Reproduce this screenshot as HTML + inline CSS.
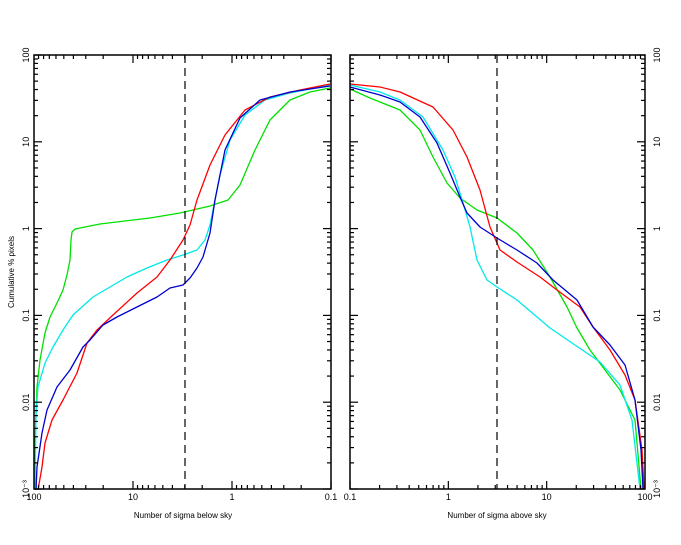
<!DOCTYPE html>
<html><head><meta charset="utf-8"><style>
html,body{margin:0;padding:0;background:#fff;width:681px;height:545px;overflow:hidden}
svg text{font-family:"Liberation Sans",sans-serif;font-size:9px;fill:#000}
</style></head><body>
<svg id="s" width="681" height="545" viewBox="0 0 681 545" xmlns="http://www.w3.org/2000/svg">
<g fill="none" stroke-width="1.3" stroke-linejoin="round">
<polyline stroke="#00e000" points="35,489 35,443 37,387 40,360 45,333 50,317 57,303 63,290 67,275 70,260 71,240 72,232 75,229 100,224 150,218 180,213 210,206 228,200 240,185 255,150 270,120 290,100 310,92 330,88"/>
<polyline stroke="#00e8e8" points="35,490 36,413 38,387 45,363 53,347 63,330 73,315 93,297 110,287 127,277 147,268 167,260 183,255 197,250 205,240 210,225 220,175 230,140 245,115 265,100 290,93 330,85"/>
<polyline stroke="#ff0000" points="38,490 42,467 45,443 52,420 63,400 77,373 87,343 97,330 113,315 137,293 157,277 170,260 183,240 190,225 197,200 210,165 225,135 245,110 270,97 300,90 330,84"/>
<polyline stroke="#0000d0" points="36,490 37,467 42,433 47,410 57,387 70,370 83,347 90,340 103,325 117,317 137,307 157,297 170,288 183,285 190,278 197,268 203,257 210,233 215,200 225,150 240,118 260,100 290,92 330,86"/>
<polyline stroke="#00e000" points="350,89 370,98 385,104 400,110 420,130 433,157 447,183 460,198 477,210 497,218 517,233 533,250 550,277 567,307 577,328 590,350 605,370 620,390 635,420 641,489"/>
<polyline stroke="#00e8e8" points="350,85 380,92 400,100 423,117 443,150 455,177 463,203 470,227 477,260 487,280 497,287 517,300 550,328 575,345 600,362 620,385 632,420 640,489"/>
<polyline stroke="#ff0000" points="350,84 380,87 400,92 433,107 453,130 467,157 480,190 490,227 500,250 517,262 540,277 557,290 580,307 593,327 610,350 625,375 635,400 642,450 644,489"/>
<polyline stroke="#0000d0" points="350,87 380,95 400,102 420,117 437,143 450,173 460,197 467,213 480,227 497,238 517,250 537,263 553,280 577,300 593,327 610,345 625,365 635,400 641,450 643,489"/>
</g>
<line x1="185" y1="55" x2="185" y2="489" stroke="#000" stroke-width="1.2" stroke-dasharray="8,5"/>
<line x1="497" y1="55" x2="497" y2="489" stroke="#000" stroke-width="1.2" stroke-dasharray="8,5"/>
<g id="ax" stroke="#000" fill="none" stroke-width="1.2"></g>
<text x="14" y="272" transform="rotate(-90 14 272)" text-anchor="middle" style="font-size:8px">Cumulative % pixels</text>
<text x="183" y="518" text-anchor="middle" style="font-size:8px">Number of sigma below sky</text>
<text x="497" y="518" text-anchor="middle" style="font-size:8px">Number of sigma above sky</text>
</svg>
<script>
(function(){
var ns="http://www.w3.org/2000/svg",ax=document.getElementById('ax'),sv=document.getElementById('s');
function L(a,b,c,d){var e=document.createElementNS(ns,'line');e.setAttribute('x1',a);e.setAttribute('y1',b);e.setAttribute('x2',c);e.setAttribute('y2',d);ax.appendChild(e);}
function T(x,y,t,rot){var e=document.createElementNS(ns,'text');e.setAttribute('x',x);e.setAttribute('y',y);e.setAttribute('text-anchor','middle');if(rot)e.setAttribute('transform','rotate(-90 '+x+' '+y+')');e.textContent=t;sv.appendChild(e);}
var P=[[34,331,true],[350,645,false]],yt=55,yb=489,dy=86.8;
P.forEach(function(p,i){var x0=p[0],x1=p[1];
 var r=document.createElementNS(ns,'rect');r.setAttribute('x',x0);r.setAttribute('y',yt);r.setAttribute('width',x1-x0);r.setAttribute('height',yb-yt);r.setAttribute('stroke-width','1.5');ax.appendChild(r);
 var dx=(x1-x0)/3;
 for(var d=0;d<3;d++)for(var k=1;k<10;k++){var f=Math.log10(k);var x=p[2]?x0+(d+1-f)*dx:x0+(d+f)*dx;if(k==1)x=p[2]?x0+(d+1)*dx:x0+d*dx;var len=k==1?8:4;L(x,yb,x,yb-len);L(x,yt,x,yt+len);}
 var lab=p[2]?['100','10','1','0.1']:['0.1','1','10','100'];
 for(var j=0;j<4;j++)T(x0+j*dx,500,lab[j]);
 for(var d=0;d<5;d++)for(var k=1;k<10;k++){var y=yt+(d+1)*dy-Math.log10(k)*dy;var len=k==1?8:4;L(x0,y,x0+len,y);L(x1,y,x1-len,y);}
 L(x0,yt,x0+8,yt);L(x1,yt,x1-8,yt);
 var yl=['100','10','1','0.1','0.01','10\u207B\u00B3'];
 for(var j=0;j<6;j++){var y=yt+j*dy;T(i==0?29:660,y,yl[j],true);}
});
})();
</script>
</body></html>
